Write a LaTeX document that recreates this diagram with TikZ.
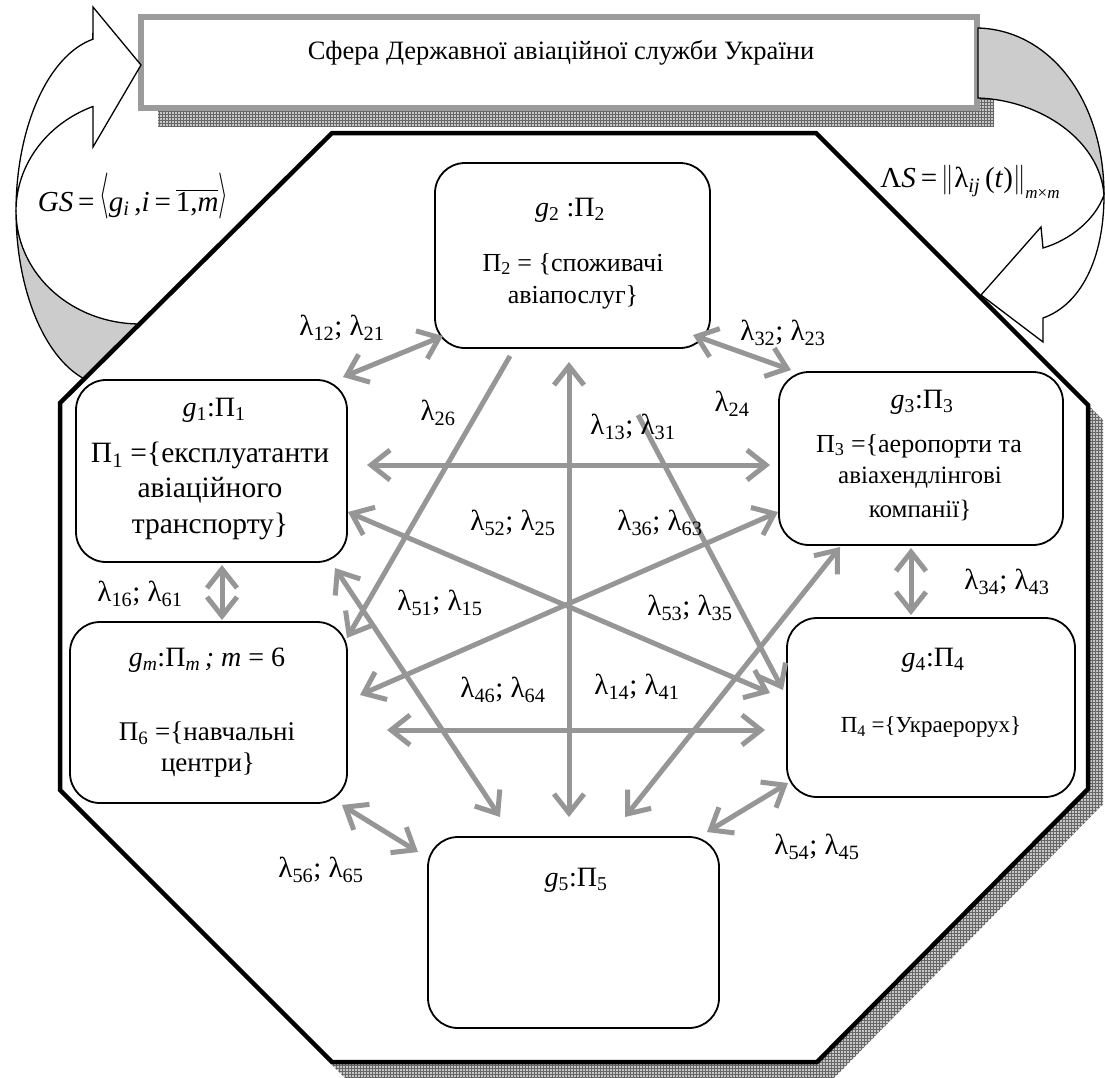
\documentclass[tikz,border=0pt]{standalone}
\usepackage{fontspec}
\setmainfont{Liberation Serif}
\usetikzlibrary{arrows.meta,patterns}
\definecolor{lgray}{RGB}{150,150,150}
\definecolor{ribgray}{RGB}{204,204,204}
\definecolor{bgray}{RGB}{155,155,155}
\newcommand{\tallangle}[1]{\raisebox{3.5pt}{\scalebox{1}[1.85]{$#1$}}}
\newcommand{\tallbars}{\raisebox{-0.5pt}{\scalebox{1}[1.2]{$\|$}}}
\begin{document}
\begin{tikzpicture}[x=1pt,y=-1pt,
  box/.style={draw=black,line width=1.8pt,rounded corners=30pt,fill=white,inner sep=0pt},
  link/.style={draw=lgray,line width=5pt,{Straight Barb[length=19pt,width=30pt]}-{Straight Barb[length=19pt,width=30pt]}},
  linkone/.style={draw=lgray,line width=5pt,-{Straight Barb[length=19pt,width=30pt]}},
  lab/.style={inner sep=0pt,font=\fontsize{29}{32}\selectfont},
  ttl/.style={inner sep=0pt,font=\fontsize{28}{32}\selectfont},
  dsc/.style={inner sep=0pt,font=\fontsize{#1}{#1}\selectfont},
  shadowfill/.style={pattern=grid,pattern color=black!60},
  rib/.style={draw=black,line width=1.3pt,line join=miter}
]
\useasboundingbox (0,0) rectangle (1105,1077);

% banner shadow and banner
\fill[black!22] (158,35) rectangle (994,126);
\fill[shadowfill] (158,35) rectangle (994,126);
\node[draw=bgray,line width=6pt,fill=white,minimum width=836pt,minimum height=91pt,inner sep=0pt] (sphere) at (559,62.5) {};
\node[dsc=26.5] (spheretext) at (561,53) {Сфера Державної авіаційної служби України};

% left curved arrow
\filldraw[rib,fill=ribgray] plot[domain=180:265,samples=40] ({111+95*cos(\x)},{211-175*sin(\x)}) -- plot[domain=285:180,samples=40] ({140+124*cos(\x)},{211-113*sin(\x)}) -- cycle;
\filldraw[rib,fill=white] (93,7) -- (141,65) -- (93,147) -- (93,106.5) -- plot[domain=112.3:180,samples=40] ({140+124*cos(\x)},{211-113*sin(\x)}) -- plot[domain=180:101,samples=40] ({111+95*cos(\x)},{211-175*sin(\x)}) -- cycle;

% right curved arrow
\filldraw[rib,fill=ribgray] (978,28) .. controls (1050,30) and (1104,100) .. (1104,195) .. controls (1100,140) and (1040,100) .. (978,98) -- cycle;
\filldraw[rib,fill=white] (981,295) -- (1041,227) -- (1043,248) .. controls (1070,240) and (1095,220) .. (1104,195) .. controls (1104,260) and (1080,305) .. (1043,318) -- (1043,342) -- cycle;

% octagon shadow and octagon
\fill[black!22] (347,148) -- (831,148) -- (1103,420) -- (1103,804) -- (832,1080) -- (347,1080) -- (75,805) -- (75,418) -- cycle;
\fill[shadowfill] (347,148) -- (831,148) -- (1103,420) -- (1103,804) -- (832,1080) -- (347,1080) -- (75,805) -- (75,418) -- cycle;
\draw[line width=4.5pt,fill=white] (332,133) -- (816,133) -- (1088,405) -- (1088,789) -- (817,1062) -- (332,1062) -- (60,790) -- (60,403) -- cycle;

% boxes
\node[box,minimum width=275pt,minimum height=185pt] (g2) at (572.5,255.5) {};
\node[box,minimum width=271pt,minimum height=182pt] (g1) at (211.5,471) {};
\node[box,minimum width=277pt,minimum height=181pt] (g6) at (208.5,712.5) {};
\node[box,minimum width=284pt,minimum height=173pt] (g3) at (921,458.5) {};
\node[box,minimum width=288pt,minimum height=179pt] (g4) at (931,707.5) {};
\node[box,minimum width=291pt,minimum height=191pt] (g5) at (573.5,932.5) {};

% box texts
\node[ttl] (g2t) at (570,210) {\textit{g}\textsubscript{2} :Π\textsubscript{2}};
\node[dsc=26] (g2d1) at (573,264) {Π\textsubscript{2} = \{споживачі};
\node[dsc=26] (g2d2) at (573,297) {авіапослуг\}};

\node[ttl] (g1t) at (214,410) {\textit{g}\textsubscript{1}:Π\textsubscript{1}};
\node[dsc=29.5] (g1d1) at (210,455) {Π\textsubscript{1} =\{експлуатанти};
\node[dsc=29.5] (g1d2) at (210,490) {авіаційного};
\node[dsc=29.5] (g1d3) at (210,526) {транспорту\}};

\node[ttl] (g6t) at (207,660) {\textit{g}\textsubscript{\textit{m}}:Π\textsubscript{\textit{m}}\,\textit{;} \textit{m} = 6};
\node[dsc=27] (g6d1) at (207,733) {Π\textsubscript{6} =\{навчальні};
\node[dsc=27] (g6d2) at (208,765) {центри\}};

\node[ttl] (g3t) at (922,402) {\textit{g}\textsubscript{3}:Π\textsubscript{3}};
\node[dsc=26] (g3d1) at (919,446) {Π\textsubscript{3} =\{аеропорти та};
\node[dsc=25] (g3d2) at (920,478) {авіахендлінгові};
\node[dsc=25] (g3d3) at (920,510) {компанії\}};

\node[ttl] (g4t) at (933,660) {\textit{g}\textsubscript{4}:Π\textsubscript{4}};
\node[dsc=23] (g4d) at (931,727) {Π\textsubscript{4} =\{Украерорух\}};

\node[ttl] (g5t) at (576,880) {\textit{g}\textsubscript{5}:Π\textsubscript{5}};

% connector end points
\coordinate (c12a) at (343,377); \coordinate (c12b) at (443,336);
\coordinate (c23a) at (693,335); \coordinate (c23b) at (791,370);
\coordinate (c16a) at (222,565); \coordinate (c16b) at (222,620);
\coordinate (c34a) at (911,548); \coordinate (c34b) at (911,615);
\coordinate (c56a) at (342,805); \coordinate (c56b) at (418,852);
\coordinate (c45a) at (788,783); \coordinate (c45b) at (707,832);
\coordinate (c13a) at (367,465); \coordinate (c13b) at (770,465);
\coordinate (c46a) at (387,730); \coordinate (c46b) at (765,730);
\coordinate (c25a) at (569,362); \coordinate (c25b) at (569,817);
\coordinate (c14a) at (348,512); \coordinate (c14b) at (770,693);
\coordinate (c36a) at (360,695); \coordinate (c36b) at (778,512);
\coordinate (c15a) at (335,568); \coordinate (c15b) at (500,817);
\coordinate (c35a) at (840,547); \coordinate (c35b) at (625,817);
\coordinate (c26a) at (510,356); \coordinate (c26b) at (347,638);
\coordinate (c24a) at (638,415); \coordinate (c24b) at (783,690);

\draw[link] (c12a) -- (c12b);
\draw[link] (c23a) -- (c23b);
\draw[link] (c16a) -- (c16b);
\draw[link] (c34a) -- (c34b);
\draw[link] (c56a) -- (c56b);
\draw[link] (c45a) -- (c45b);
\draw[link] (c13a) -- (c13b);
\draw[link] (c46a) -- (c46b);
\draw[link] (c25a) -- (c25b);
\draw[link] (c14a) -- (c14b);
\draw[link] (c36a) -- (c36b);
\draw[link] (c15a) -- (c15b);
\draw[link] (c35a) -- (c35b);
\draw[linkone] (c26a) -- (c26b);
\draw[linkone] (c24a) -- (c24b);

% lambda labels
\node[lab] (l12) at (342,328) {λ\textsubscript{12}; λ\textsubscript{21}};
\node[lab] (l23) at (783,333) {λ\textsubscript{32}; λ\textsubscript{23}};
\node[lab] (l16) at (140,594) {λ\textsubscript{16}; λ\textsubscript{61}};
\node[lab] (l34) at (1007,582) {λ\textsubscript{34}; λ\textsubscript{43}};
\node[lab] (l56) at (321,870) {λ\textsubscript{56}; λ\textsubscript{65}};
\node[lab] (l45) at (817,847) {λ\textsubscript{54}; λ\textsubscript{45}};
\node[lab] (l26) at (438,413) {λ\textsubscript{26}};
\node[lab] (l24) at (732,404) {λ\textsubscript{24}};
\node[lab] (l13) at (633,427) {λ\textsubscript{13}; λ\textsubscript{31}};
\node[lab] (l25) at (513,523) {λ\textsubscript{52}; λ\textsubscript{25}};
\node[lab] (l36) at (660,523) {λ\textsubscript{36}; λ\textsubscript{63}};
\node[lab] (l15) at (440,603) {λ\textsubscript{51}; λ\textsubscript{15}};
\node[lab] (l35) at (690,608) {λ\textsubscript{53}; λ\textsubscript{35}};
\node[lab] (l46) at (503,690) {λ\textsubscript{46}; λ\textsubscript{64}};
\node[lab] (l14) at (637,687) {λ\textsubscript{14}; λ\textsubscript{41}};

% formulas
\node[inner sep=0pt,font=\fontsize{29}{32}\selectfont] (gs) at (133,196)
  {\textit{GS}\,=\,\tallangle{\langle}\textit{g}\textsubscript{\textit{i}}\,,\textit{i}\,=\,$\overline{\hbox{1,\textit{m}}}$\tallangle{\rangle}};
\node[inner sep=0pt,font=\fontsize{29}{32}\selectfont] (ls) at (970,182)
  {Λ\textit{S}\,=\,\tallbars λ\textsubscript{\textit{ij}}\,(\textit{t})\tallbars\raisebox{-0.4em}{\fontsize{17}{17}\selectfont\textit{m}×\textit{m}}};
\end{tikzpicture}
\end{document}
